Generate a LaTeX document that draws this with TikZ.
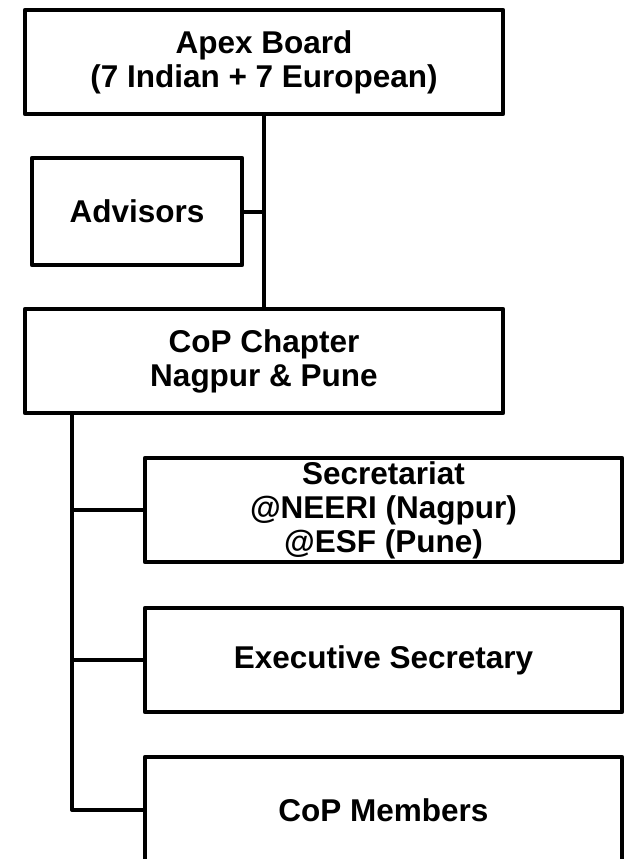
\documentclass[tikz,border=0pt]{standalone}
\usepackage{fontspec}
\setmainfont{Liberation Sans}
\usetikzlibrary{positioning}

\begin{document}
\begin{tikzpicture}[
  x=1pt, y=1pt,
  every node/.style={font=\bfseries\fontsize{31.5}{34}\selectfont},
  box/.style={draw, line width=4.5pt, line join=round, outer sep=0pt,
              minimum width=478pt, minimum height=104pt, inner sep=0pt,
              align=center},
  link/.style={line width=4pt, line join=round}
]
  \useasboundingbox (0,0) rectangle (626,-859);

  \node[box] (apex) at (264,-62) {Apex Board\\(7 Indian + 7 European)};
  \node[box, minimum width=210pt, minimum height=107pt,
        below right=44pt and 7pt of apex.south west] (adv) {Advisors};
  \node[box, below=195pt of apex] (cop) {CoP Chapter\\Nagpur \& Pune};

  \node[box, minimum width=477pt,
        below right=45pt and 120pt of cop.south west] (sec)
    {Secretariat\\@NEERI (Nagpur)\\@ESF (Pune)};
  \node[box, minimum width=477pt, below=46pt of sec] (exec)
    {Executive Secretary};
  \node[box, minimum width=477pt, minimum height=106pt,
        below=45pt of exec.south, anchor=north] (mem) {CoP Members};

  \draw[link] (apex.south) -- (cop.north);
  \draw[link] (adv.east) -- (adv.east -| apex.south);

  \coordinate (trunk) at ([xshift=47pt]cop.south west);
  \draw[link] (trunk) |- (mem.west);
  \draw[link] (sec.west) -- (sec.west -| trunk);
  \draw[link] (exec.west) -- (exec.west -| trunk);
\end{tikzpicture}
\end{document}
